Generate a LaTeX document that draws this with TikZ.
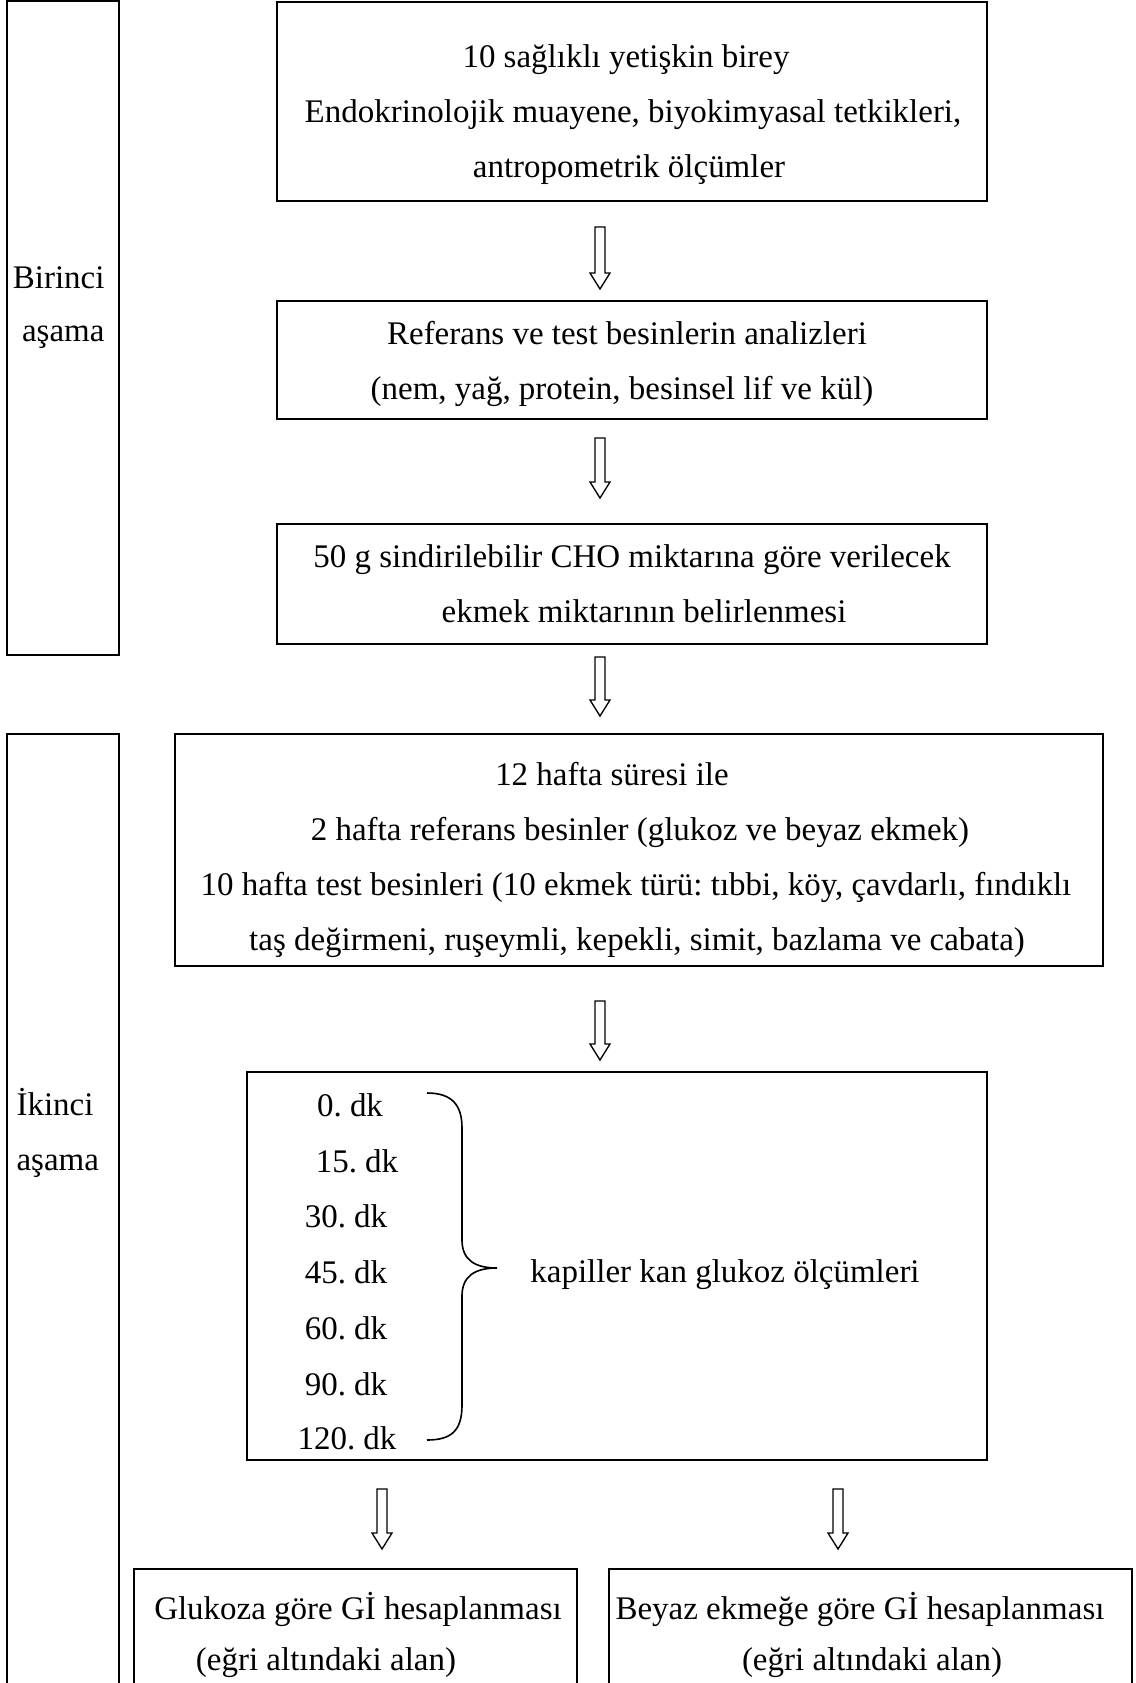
\documentclass[tikz,border=0pt]{standalone}
\usepackage{fontspec}
\setmainfont{Liberation Serif}
\usetikzlibrary{calc,fit}
\frenchspacing

\tikzset{
  box/.style={draw, line width=0.75pt, inner sep=0pt},
  txt/.style={anchor=base, inner sep=0pt, font=\fontsize{12.25}{14}\selectfont},
  blockarrow/.style={line width=0.5pt, line join=miter,
    to path={($(\tikztostart)+(-5,0)$) -- ($(\tikztotarget)+(-5,-16)$) -- ($(\tikztotarget)+(-10,-16)$) -- (\tikztotarget) -- ($(\tikztotarget)+(10,-16)$) -- ($(\tikztotarget)+(5,-16)$) -- ($(\tikztostart)+(5,0)$) -- cycle}}
}

\begin{document}
\begin{tikzpicture}[x=0.3715pt, y=-0.3715pt]
\useasboundingbox (0,0) rectangle (1136,1683);
\clip (0,0) rectangle (1136,1683);

% stage frames
\node[box, fit={(7,1) (119,655)}] (stage1) {};
\node[box, fit={(7,734) (119,1720)}] (stage2) {};
\node[txt, anchor=base east] (s1a) at (105,288) {Birinci};
\node[txt, anchor=base east] (s1b) at (105,341) {aşama};
\node[txt, anchor=base west] (s2a) at (16,1115) {İkinci};
\node[txt, anchor=base west] (s2b) at (16,1170) {aşama};

% boxes
\node[box, fit={(277,2) (987,201)}] (b1) {};
\node[box, fit={(277,301) (987,419)}] (b2) {};
\node[box, fit={(277,524) (987,644)}] (b3) {};
\node[box, fit={(175,734) (1103,966)}] (b4) {};
\node[box, fit={(247,1072) (987,1460)}] (b5) {};
\node[box, fit={(134,1569) (577,1720)}] (b6) {};
\node[box, fit={(609,1569) (1132,1720)}] (b7) {};

% texts
\node[txt] (t1a) at (626,67) {10 sağlıklı yetişkin birey};
\node[txt] (t1b) at (633,122) {Endokrinolojik muayene, biyokimyasal tetkikleri,};
\node[txt] (t1c) at (629,177) {antropometrik ölçümler};
\node[txt] (t2a) at (627,344) {Referans ve test besinlerin analizleri};
\node[txt] (t2b) at (622,399) {(nem, yağ, protein, besinsel lif ve kül)};
\node[txt] (t3a) at (632,567) {50 g sindirilebilir CHO miktarına göre verilecek};
\node[txt] (t3b) at (644,622) {ekmek miktarının belirlenmesi};
\node[txt] (t4a) at (612,785) {12 hafta süresi ile};
\node[txt] (t4b) at (640,840) {2 hafta referans besinler (glukoz ve beyaz ekmek)};
\node[txt] (t4c) at (636,895) {10 hafta test besinleri (10 ekmek türü: tıbbi, köy, çavdarlı, fındıklı};
\node[txt] (t4d) at (637,950) {taş değirmeni, ruşeymli, kepekli, simit, bazlama ve cabata)};
\foreach \lbl/\xx/\yy [count=\i] in {0./350/1116, 15./357/1172, 30./346/1227, 45./346/1283, 60./346/1339, 90./346/1395, 120./347/1449}
  \node[txt] (dk\i) at (\xx,\yy) {\lbl\ dk};
\node[txt] (t5) at (725,1282) {kapiller kan glukoz ölçümleri};
\node[txt] (t6a) at (358,1619) {Glukoza göre Gİ hesaplanması};
\node[txt] (t6b) at (326,1670) {(eğri altındaki alan)};
\node[txt] (t7a) at (860,1619) {Beyaz ekmeğe göre Gİ hesaplanması};
\node[txt] (t7b) at (872,1670) {(eğri altındaki alan)};

% brace
\draw[line width=0.6pt] (427,1093) .. controls (452,1093) and (462,1105) .. (462,1128) -- (462,1240)
  .. controls (462,1260) and (475,1268) .. (497,1268)
  .. controls (475,1268) and (462,1276) .. (462,1296) -- (462,1405)
  .. controls (462,1430) and (452,1440) .. (427,1440);

% arrows
\coordinate (a1s) at (600,227);  \coordinate (a1e) at (600,289);
\coordinate (a2s) at (600,438);  \coordinate (a2e) at (600,498);
\coordinate (a3s) at (600,657);  \coordinate (a3e) at (600,716);
\coordinate (a4s) at (600,1001); \coordinate (a4e) at (600,1060);
\coordinate (a5s) at (382,1489); \coordinate (a5e) at (382,1549);
\coordinate (a6s) at (838,1489); \coordinate (a6e) at (838,1549);
\draw[blockarrow] (a1s) to (a1e);
\draw[blockarrow] (a2s) to (a2e);
\draw[blockarrow] (a3s) to (a3e);
\draw[blockarrow] (a4s) to (a4e);
\draw[blockarrow] (a5s) to (a5e);
\draw[blockarrow] (a6s) to (a6e);
\end{tikzpicture}
\end{document}
